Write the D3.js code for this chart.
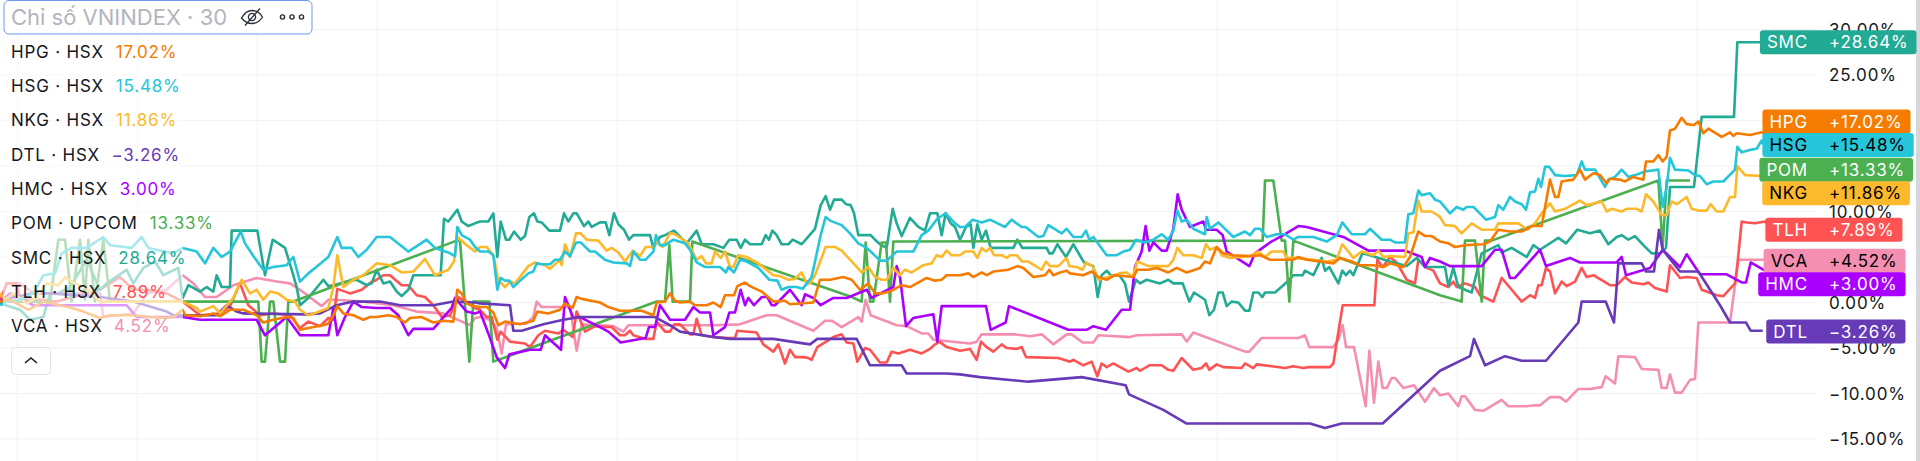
<!DOCTYPE html>
<html><head><meta charset="utf-8">
<style>html,body{margin:0;padding:0;background:#fff;overflow:hidden}svg{display:block;font-family:Inter,"Liberation Sans",sans-serif}</style>
<script src="https://cdn.jsdelivr.net/npm/d3@7"></script>
</head><body><svg id="c" width="1920" height="461"></svg>
<script>
const yTicks=[30,25,20,15,10,5,0,-5,-10,-15];
const gridTimes=[52,412,772,1132,1492,1852,2212,2572,2932,3292,3652,4012,4372,4732,5092];
const symbols=["HPG","HSG","NKG","DTL","HMC","POM","SMC","TLH","VCA"];
const exchanges=["HSX","HSX","HSX","HSX","HSX","UPCOM","HSX","HSX","HSX"];
const lastPct=[17.02,15.48,11.86,-3.26,3.00,13.33,28.64,7.89,4.52];
const labelAt=[19.9,17.3,14.6,12.0,8.0,4.6,2.0,-3.2];
const POM=[[0,.1],[150,.1],[175,6.9],[195,6.9],[215,.1],[240,6.9],[255,.3],[265,6.9],[285,.1],[310,6.9],[330,.1],[548,.1],[775,.1],[785,-6.5],[795,-6.5],[810,.1],[820,.1],[840,-6.5],[855,-6.5],[865,.1],[880,.1],[1370,6.8],[1380,6.8],[1408,-6.5],[1420,.1],[1468,.1],[1480,-6.5],[1970,.1],[1995,.1],[2008,6.3],[2018,.1],[2070,.1],[2077,6.7],[2555,.6],[2585,.1],[2597,6.6],[2610,.1],[2620,.1],[2645,6.6],[2658,6.6],[2670,.1],[2680,6.7],[3788,6.8],[3795,13.4],[3820,13.4],[3845,6.8],[3855,6.8],[3868,.1],[3880,6.8],[4320,.8],[4385,.1],[4395,6.8],[4425,6.8],[4445,.1],[4455,6.8],[4475,6.8],[4975,13.4],[4988,6.1],[5000,13.4],[5070,13.4]];
const SMC=[[0,-.1],[60,-.8],[90,-1.9],[130,-1.6],[150,1],[175,1],[210,1.7],[260,4.7],[300,1.4],[320,2.1],[380,3.6],[400,2.1],[430,3.8],[465,4.5],[490,3],[535,3.8],[548,.5],[565,1.9],[600,1.2],[620,1.7],[640,1.2],[650,3],[665,1.7],[690,1.7],[695,7.9],[772,7.9],[795,3],[818,6.9],[835,6.5],[855,6],[875,3.6],[890,1.7],[900,-.3],[925,.5],[945,1.4],[970,2.5],[985,1.8],[1000,1.9],[1040,2.3],[1070,2.5],[1100,1.9],[1115,2.1],[1130,3.6],[1150,2.1],[1170,2.3],[1190,1.2],[1205,.7],[1225,1.4],[1240,3],[1322,3],[1332,9.2],[1345,8.9],[1372,10.2],[1385,8.9],[1405,8.4],[1425,8.7],[1440,8.9],[1465,8.9],[1480,9.8],[1492,5],[1502,8.9],[1518,6.9],[1528,6.9],[1542,7.8],[1562,6.9],[1575,7.3],[1588,9.4],[1602,9.8],[1612,8.9],[1625,8.8],[1648,7.9],[1680,7.9],[1692,9.8],[1705,8.9],[1720,9.8],[1730,9.8],[1752,8.4],[1765,8.9],[1775,8.3],[1800,8.8],[1817,8.8],[1828,7.4],[1842,9.8],[1855,8.6],[1872,8],[1887,6.9],[1900,7.4],[1950,7.4],[1960,6],[1980,7.2],[1995,7.4],[2022,7.9],[2060,6.5],[2090,7.9],[2105,6.4],[2140,6.4],[2170,6],[2188,6.9],[2210,6.9],[2222,6],[2235,6.9],[2250,6.4],[2285,6.4],[2297,7.4],[2307,6.9],[2317,7.9],[2330,7.4],[2345,6.4],[2365,6.4],[2378,6.9],[2405,6.4],[2445,8.1],[2462,10.7],[2477,11.7],[2490,10.2],[2502,11.3],[2525,11.3],[2538,10.8],[2552,10.7],[2562,9.8],[2575,7.4],[2612,7.4],[2625,6.9],[2640,6.4],[2660,6],[2678,10.3],[2690,8.7],[2705,7.3],[2730,9.3],[2755,8.3],[2775,7.9],[2790,9.8],[2812,9.8],[2825,7.4],[2837,9.8],[2852,8.7],[2865,8.3],[2880,6.9],[2898,8.3],[2912,8.6],[2920,6],[2932,8.6],[2945,6.9],[2958,7.9],[2972,6],[3040,6],[3052,6.9],[3067,6],[3140,6],[3148,5.4],[3158,5.4],[3172,6.4],[3198,5],[3220,6.4],[3252,4.4],[3280,4],[3293,.6],[3305,3],[3320,3.5],[3332,3],[3358,3],[3375,2.1],[3387,.1],[3408,2.5],[3420,2.1],[3440,2.5],[3480,2.1],[3505,2.5],[3520,2.1],[3548,2.1],[3568,.1],[3582,1.1],[3615,.3],[3628,-1.4],[3642,-.8],[3655,1.1],[3668,1.1],[3680,-.4],[3695,.1],[3715,0],[3735,-.9],[3748,-.9],[3760,1.1],[3775,1.1],[3787,.6],[3795,1.1],[3825,1.1],[3850,1.9],[3868,2.5],[3880,3],[3908,3],[3915,3.5],[3940,3],[3965,4.9],[3975,3.5],[3988,3.9],[4015,2.1],[4027,3.5],[4038,3],[4050,3.5],[4060,3],[4087,5.4],[4100,5.3],[4170,4.5],[4220,4],[4250,4.9],[4275,3.9],[4320,3.9],[4335,3.9],[4345,1.8],[4360,3.8],[4375,1.7],[4395,1.4],[4415,1.1],[4445,5.4],[4495,6.3],[4505,5.5],[4535,6],[4580,5],[4600,6.3],[4620,5.8],[4675,7.1],[4698,6.5],[4732,8],[4770,7.6],[4800,7.9],[4825,6.4],[4850,7.2],[4865,7.4],[4885,6.9],[4905,7.3],[4930,6.3],[4955,5.4],[4980,5.4],[4998,6],[5010,12.7],[5082,12.7],[5105,20.4],[5115,20.4],[5202,20.4],[5212,28.6],[5290,28.6]];
const HSG=[[0,-.3],[20,.1],[60,.3],[100,1],[130,3],[165,3.2],[185,5.4],[215,6],[260,6],[310,7.2],[330,6.3],[395,6],[425,7.2],[445,6],[520,5.4],[548,6],[590,5.6],[615,4.3],[640,6],[665,5],[690,5.6],[722,7.8],[735,6.5],[762,5],[790,3.6],[820,3.9],[860,4.1],[880,5],[900,2.3],[925,3.2],[945,3.8],[985,5],[1012,7.2],[1025,6],[1055,6],[1075,5],[1100,5.8],[1130,7.2],[1170,7.2],[1225,5.6],[1280,6.9],[1305,6],[1345,5.5],[1365,5.1],[1372,8.3],[1385,7.4],[1410,6.9],[1425,6.1],[1440,5.6],[1465,5.6],[1480,5.2],[1492,1.4],[1502,2.7],[1515,2.4],[1528,2.4],[1540,1.7],[1560,2.4],[1585,3.2],[1600,3.4],[1610,4.3],[1625,4.2],[1650,4.2],[1665,4.7],[1680,4.7],[1695,5.6],[1710,5.1],[1728,6.6],[1742,6.6],[1770,5.6],[1785,5.6],[1815,4.7],[1840,4.4],[1880,4.3],[1890,4],[1900,5.6],[1920,4.7],[1937,4.7],[1960,5.6],[1968,7.4],[1980,6.3],[1995,6.3],[2020,6.9],[2055,6.5],[2070,5.8],[2090,4.4],[2115,3.9],[2160,3.9],[2178,3.3],[2185,3.9],[2202,3.3],[2220,4.7],[2240,4.5],[2275,3.8],[2308,2.5],[2332,2.4],[2345,1.4],[2365,1.7],[2390,1.7],[2408,1.5],[2435,2.8],[2462,7.4],[2477,9.4],[2490,9],[2525,8.5],[2550,7.6],[2575,6.5],[2600,6],[2612,5.6],[2640,4.6],[2660,4.6],[2675,5.1],[2690,5.6],[2740,5.6],[2765,7.4],[2785,7.9],[2812,9.2],[2837,9.8],[2865,8.7],[2880,8.3],[2895,8.3],[2918,9.1],[2945,8.8],[2970,9.1],[3015,8.3],[3035,9.1],[3065,8.3],[3077,8.3],[3115,7.2],[3130,7.3],[3145,8.5],[3185,7.6],[3200,8.1],[3220,7.2],[3245,7.2],[3258,7.9],[3268,6.9],[3280,7.2],[3320,5.2],[3350,5.2],[3370,5.6],[3390,5.8],[3408,6.9],[3435,6.6],[3460,6.9],[3485,7.5],[3505,6.9],[3520,7.9],[3532,10.1],[3545,8.9],[3560,9.1],[3580,8.1],[3615,7.5],[3620,9.4],[3630,8.1],[3655,8.8],[3700,7.2],[3735,7.8],[3750,7.4],[3765,8.1],[3780,8.1],[3800,7.2],[3830,7.5],[3855,7.5],[3880,6.9],[3895,7.2],[3940,7.2],[3980,6.7],[4010,7.4],[4027,8.8],[4055,7.5],[4095,7.5],[4110,8.1],[4145,6.9],[4170,6.9],[4185,6.6],[4215,6.6],[4225,9.7],[4240,9.8],[4255,12.3],[4265,11.8],[4290,12],[4305,11.3],[4320,11.1],[4350,9.8],[4370,10.5],[4390,10.2],[4400,10.5],[4420,10.5],[4458,9.1],[4485,9.4],[4495,10.7],[4510,10.2],[4530,11.6],[4545,11.1],[4565,10.8],[4578,10.2],[4590,12.1],[4605,12.2],[4615,13.6],[4623,12.7],[4635,14.9],[4648,14.9],[4665,14],[4695,13.9],[4730,14],[4745,15.5],[4755,14.6],[4785,14.6],[4815,12.7],[4825,13.5],[4845,13.8],[4865,14.6],[4885,13.8],[4905,14],[4935,14.4],[4975,14.6],[4988,10.5],[5000,12.7],[5010,15.9],[5025,14.6],[5065,14.5],[5085,14],[5100,13.9],[5120,13],[5140,13.3],[5170,13.3],[5205,14.6],[5212,17.1],[5225,16.5],[5255,16.8],[5270,16.9],[5285,17.8],[5300,16.9]];
const HPG=[[0,.1],[30,.3],[50,-.1],[85,-.8],[130,.1],[180,-.3],[215,-.6],[250,-1],[300,-1.7],[330,-1.4],[400,-1.4],[450,-1.6],[500,-1.7],[520,-1.6],[548,-.8],[555,-1.4],[600,-1.5],[640,-1.2],[660,-1.5],[690,-.8],[730,-.8],[770,-1.4],[790,-2.2],[820,-1.9],[860,-1.6],[880,-1.7],[900,-3],[925,-2.8],[970,-2.5],[985,-2.3],[1000,-1.4],[1012,-.4],[1030,-1.2],[1060,-1.4],[1090,-1.9],[1110,-1.6],[1130,-1.6],[1165,-1.4],[1190,-1.6],[1215,-2.2],[1230,-1.7],[1265,-1.6],[1300,-2.2],[1330,-2],[1360,-2.1],[1372,1.4],[1385,1],[1400,-.1],[1420,-.4],[1440,-.5],[1460,-.5],[1480,-1.1],[1495,-2.5],[1515,-2.1],[1560,-2.4],[1600,-2],[1612,-1],[1645,-1.2],[1680,-.8],[1695,-.1],[1718,-.6],[1730,.6],[1745,.4],[1800,0],[1825,-.5],[1860,-.9],[1890,-.9],[1925,-.9],[1960,-1.4],[1970,0],[1995,.1],[2010,1],[2025,.2],[2040,0],[2070,.1],[2085,-.3],[2120,-.3],[2140,0],[2162,-.5],[2175,.8],[2202,.8],[2212,1.8],[2235,2.2],[2250,1.8],[2285,1.2],[2320,.1],[2355,.2],[2370,-.2],[2440,0],[2460,2.5],[2490,2.5],[2530,2.8],[2555,2.5],[2580,1.4],[2605,2.1],[2625,1],[2645,1],[2670,1.2],[2705,1.9],[2730,1.7],[2780,2.7],[2805,2.4],[2825,2.5],[2840,3],[2880,3],[2905,3.2],[2920,2.8],[2945,3.3],[2960,3],[2980,3.4],[3025,3.6],[3052,4],[3070,3.8],[3100,2.8],[3135,3],[3148,3.6],[3160,3],[3180,3.3],[3200,3.5],[3210,3.2],[3250,3],[3275,3.4],[3295,2.8],[3320,2.5],[3345,3],[3400,2.8],[3412,3.6],[3445,3.6],[3470,3.8],[3505,3.3],[3530,3.8],[3560,3.3],[3600,3.8],[3615,4.5],[3630,4.3],[3650,6.1],[3670,5.4],[3700,5.2],[3750,5.1],[3780,5.2],[3810,4.7],[3880,4.7],[3895,5],[3920,4.7],[4000,4.3],[4020,4.9],[4055,4.5],[4080,4.1],[4120,4.1],[4150,3.9],[4170,4.3],[4210,3.9],[4230,5],[4255,7.8],[4275,7.3],[4295,7.3],[4320,6.7],[4345,6.5],[4365,6.1],[4395,6.3],[4450,6.4],[4470,6.7],[4495,8],[4530,7.8],[4565,7.8],[4595,8.4],[4625,8.4],[4650,13.5],[4665,11.6],[4675,11.6],[4685,13.3],[4720,13.5],[4740,14.6],[4755,13.5],[4780,14.2],[4800,14],[4820,13.1],[4830,13.6],[4860,13.5],[4875,13.3],[4900,13.8],[4930,13.5],[4938,15.5],[4960,15.5],[4975,16.2],[4988,15.5],[5000,16],[5010,18.9],[5025,19.1],[5045,20.3],[5060,19.6],[5082,19.5],[5095,19.9],[5110,18.6],[5125,19.1],[5165,18.2],[5190,18.7],[5200,18.3],[5210,18.6],[5250,18.4],[5285,18.7],[5305,18.3]];
const NKG=[[0,1],[15,.3],[40,1],[80,-.1],[110,.6],[140,2.1],[175,1.9],[195,2.8],[225,2.1],[260,1.5],[300,.1],[548,.1],[590,-.6],[600,-1],[640,-.4],[660,-1.2],[700,.5],[725,2.5],[750,1],[770,1.4],[790,.3],[810,1.2],[835,1],[860,.3],[885,.1],[900,-.8],[925,-1.4],[950,-1.1],[985,-.6],[1000,1.7],[1012,5.2],[1030,1.7],[1060,2.5],[1090,3],[1130,4.3],[1170,4.1],[1205,3.3],[1240,3.4],[1275,4.8],[1305,3],[1345,3.6],[1362,4.5],[1372,7.2],[1400,6.3],[1425,5.6],[1440,6.1],[1460,6.1],[1480,5.2],[1495,2.5],[1515,1.7],[1530,2.3],[1545,2.1],[1585,4],[1605,4.4],[1635,4.1],[1650,3.7],[1680,4.7],[1685,4.1],[1695,6.4],[1710,5],[1728,7.6],[1742,7.6],[1760,6.9],[1795,6.8],[1820,5.7],[1835,6],[1855,5.5],[1875,4.5],[1898,5.7],[1920,5.1],[1937,6.1],[1960,6.1],[1970,6.7],[1988,6.1],[2010,7.6],[2025,7.5],[2065,6.5],[2090,4.7],[2105,5.1],[2118,4.3],[2135,4.3],[2145,5.6],[2162,4.9],[2175,5.6],[2190,3.9],[2200,3.9],[2215,5.2],[2240,5],[2275,4.3],[2320,3],[2340,2.9],[2365,2.5],[2385,2.6],[2405,3.3],[2420,2.1],[2430,2.1],[2445,3],[2477,6.1],[2505,6.1],[2525,5.7],[2550,4.7],[2585,3.3],[2605,3.9],[2625,2.8],[2645,2.5],[2660,2.5],[2680,3.8],[2700,3],[2715,3.6],[2735,3.3],[2770,4.1],[2795,4.3],[2810,5.2],[2825,5],[2840,5.7],[2855,5.2],[2880,5.2],[2895,5.6],[2920,5.6],[2932,4.9],[2945,6],[2958,5.6],[2970,6],[2982,5.2],[3005,5.2],[3020,4.9],[3030,5.2],[3050,5.2],[3067,4.5],[3085,4.5],[3125,3.6],[3138,4.5],[3150,4],[3175,4],[3200,4.9],[3208,4],[3230,3.9],[3248,3.6],[3258,4.4],[3280,3.9],[3295,2.5],[3325,2.8],[3358,3.2],[3380,3.3],[3398,2.8],[3412,4.5],[3445,4],[3505,4],[3520,4.7],[3532,6],[3550,5.2],[3580,5.2],[3605,4.9],[3618,6.4],[3630,5.8],[3650,6.1],[3665,5.2],[3690,4.9],[3750,5.1],[3775,5.6],[3795,5],[3815,5.6],[3850,5.6],[3860,4.9],[3880,4.9],[3940,4.7],[3980,4.5],[4010,4.7],[4027,6.4],[4045,5.6],[4060,4.9],[4085,5.6],[4120,5.2],[4135,5.7],[4150,5],[4170,5.1],[4215,5],[4225,7.6],[4240,7.7],[4255,11.2],[4265,10],[4295,10],[4320,9.4],[4335,8.5],[4365,8.4],[4385,7.6],[4415,8.7],[4445,8],[4485,8],[4495,8.7],[4555,8.7],[4582,8],[4605,8.7],[4625,9.8],[4650,10.9],[4665,10],[4695,10.3],[4740,11.2],[4760,10.7],[4805,11.1],[4820,10],[4835,10.3],[4865,10],[4880,10.3],[4910,10.3],[4925,10],[4938,11.9],[4960,11.1],[4985,9.6],[5000,9.6],[5015,11.1],[5030,10.8],[5060,11.6],[5075,10.3],[5095,10.1],[5120,10.1],[5132,10.8],[5150,10],[5170,10],[5190,11.6],[5205,11.6],[5212,15],[5235,14],[5290,13.9]];
const DTL=[[0,.1],[30,.5],[100,1],[150,1],[300,.6],[400,.1],[500,-1],[520,-1.4],[650,-1.4],[680,-.3],[710,-1],[730,-1.2],[920,-1.3],[960,-1.2],[1010,-.3],[1060,.1],[1140,.1],[1200,-.3],[1300,-.3],[1360,.1],[1425,0],[1440,-.1],[1530,-.3],[1540,-3.1],[1565,-3.1],[1630,-2.4],[1690,-1.9],[1740,-1.6],[1965,-1.6],[2010,-2.5],[2040,-3.2],[2140,-3.8],[2190,-4],[2320,-4],[2430,-4.6],[2452,-4],[2570,-4],[2610,-6.9],[2705,-6.9],[2720,-7.8],[2840,-7.8],[2880,-7.9],[2940,-8.2],[3085,-8.7],[3245,-8.2],[3377,-9.1],[3387,-10.1],[3490,-11.8],[3560,-13.3],[3930,-13.3],[3975,-13.8],[4025,-13.3],[4148,-13.3],[4320,-7.5],[4410,-5.9],[4422,-4],[4455,-6.9],[4515,-5.9],[4565,-6.4],[4638,-6.4],[4735,-2.2],[4745,.1],[4817,.1],[4842,-2.2],[4855,4.3],[4925,4.3],[4938,3.4],[4962,3.4],[4977,8],[4988,5.8],[5040,3.4],[5095,3.4],[5160,-.3],[5190,-2.2],[5238,-2.2],[5252,-3.1],[5288,-3.1]];
const HMC=[[0,.1],[30,1],[100,-.3],[380,-.3],[410,-1.6],[548,-1.6],[600,-1.9],[770,-1.9],[795,-3.6],[860,-1.6],[900,-3.6],[985,-3.6],[1000,-.6],[1012,-3.6],[1035,-1.6],[1060,.1],[1085,-.5],[1130,-.6],[1170,-.6],[1195,-1.4],[1225,-3.6],[1240,-2.9],[1300,-2.9],[1355,-.6],[1365,.5],[1400,-1],[1425,-1.2],[1440,-1],[1465,-3.4],[1490,-6],[1515,-7.2],[1528,-5.7],[1590,-5.2],[1622,-5.2],[1635,-3.6],[1683,-5.2],[1695,.6],[1720,-1.7],[1740,-1.6],[1800,-2.7],[1825,-3.2],[1862,-4.4],[1937,-3.9],[1947,-2.7],[1965,-2.7],[1980,-.3],[2010,-1.9],[2055,-1.9],[2080,-.5],[2100,-1.1],[2130,-1.1],[2140,-3.6],[2175,-2.7],[2188,-1.1],[2205,-1.1],[2222,1.4],[2235,-.3],[2245,.5],[2262,-.3],[2285,.6],[2302,.6],[2315,-.3],[2325,-.3],[2370,1.4],[2405,-.3],[2415,.9],[2440,.5],[2462,-.3],[2500,.5],[2540,.5],[2600,1.4],[2615,.5],[2680,1.7],[2690,4],[2700,2.8],[2718,-2.6],[2740,-1.7],[2800,-1.3],[2812,-4.3],[2825,-.4],[2880,-.4],[2958,-.4],[2972,-3],[3017,-2.2],[3027,-.4],[3205,-3],[3260,-3],[3280,-2.6],[3318,-3],[3365,-.8],[3390,-.8],[3405,3.9],[3425,5.6],[3437,8.4],[3448,5.7],[3460,6.6],[3485,5.7],[3500,5.7],[3520,8.1],[3533,11.9],[3545,10.2],[3570,8.3],[3610,8.9],[3618,8],[3650,8],[3668,7.4],[3680,5.6],[3748,4],[3765,5.4],[3810,6.6],[3850,7.4],[3895,8.4],[3920,8.3],[4030,7.2],[4105,5.7],[4215,5.7],[4265,5],[4275,3.9],[4290,4.9],[4320,4.5],[4350,4],[4445,4],[4485,5.8],[4505,5.8],[4530,2.7],[4545,2.7],[4620,5.8],[4638,4],[4710,4.9],[4740,4.4],[4850,4.4],[4865,5],[4878,3],[4950,3.8],[4960,4.3],[4988,5.8],[5040,3.9],[5060,5.3],[5100,3.1],[5180,3.1],[5225,2.2],[5238,2.2],[5252,4.4],[5295,3.5]];
const TLH=[[0,.1],[20,2.1],[50,2.1],[60,.3],[130,.3],[170,.1],[300,1.4],[330,2.1],[360,2.8],[400,1.4],[440,1.4],[500,1],[548,.1],[600,-1.4],[660,-1.2],[690,-.4],[720,2.1],[745,-.3],[780,-1.4],[820,-1.2],[870,-1.4],[900,-2.8],[925,-2.1],[960,-2.6],[985,-1.7],[1000,-1.9],[1012,1.5],[1050,1],[1085,1.4],[1112,2.2],[1130,2.5],[1150,3],[1170,3],[1205,1.9],[1225,1.9],[1250,.8],[1275,.6],[1300,-.3],[1325,-1.6],[1350,-1.4],[1375,.6],[1425,-.6],[1440,-.8],[1460,-1.6],[1475,-1.6],[1492,-4.1],[1502,-3.2],[1530,-4.3],[1575,-4.5],[1590,-4.9],[1615,-3.6],[1635,-3.1],[1675,-3.4],[1690,-3],[1718,-3.8],[1730,-1],[1755,-3.2],[1785,-2.6],[1815,-2.7],[1835,-2.7],[1860,-3.6],[1875,-3.6],[1890,-3.1],[1900,-3.6],[1937,-4],[1960,-4],[1970,-2.1],[1995,-3.2],[2010,-3.2],[2023,-2.4],[2040,-2.4],[2070,-3.5],[2080,-3.5],[2090,-1.8],[2105,-3.6],[2140,-3.8],[2185,-3.9],[2205,-3.9],[2212,-3.1],[2270,-3.3],[2290,-4.6],[2320,-5.4],[2335,-4.6],[2355,-6.7],[2370,-5.2],[2385,-6],[2410,-6],[2425,-6.1],[2435,-6.3],[2452,-4.9],[2500,-3.8],[2525,-3.5],[2540,-4.4],[2560,-4.5],[2572,-6.5],[2595,-5],[2610,-5.2],[2640,-6.6],[2660,-6.6],[2675,-5.4],[2695,-5.6],[2730,-5.2],[2765,-5.6],[2790,-5.1],[2802,-4.7],[2818,-4.3],[2840,-4.9],[2880,-5.3],[2910,-5.1],[2930,-6.3],[2943,-4.3],[2960,-4.9],[2980,-5.4],[3005,-4.6],[3020,-5],[3050,-5.1],[3065,-4.9],[3078,-6],[3175,-6.1],[3210,-6.5],[3220,-6.3],[3250,-6.9],[3275,-6.5],[3292,-8.1],[3305,-6.7],[3320,-7.1],[3340,-6.7],[3385,-7.6],[3410,-7.2],[3420,-7.5],[3448,-6.9],[3485,-6.9],[3505,-7.4],[3520,-7.5],[3545,-6.1],[3580,-7.4],[3605,-7.2],[3618,-6.7],[3628,-7.4],[3650,-6.8],[3670,-7.1],[3725,-7.2],[3735,-6.7],[3760,-7.2],[3770,-6.8],[3815,-7],[3855,-7.2],[3880,-7],[3910,-7.2],[3925,-7.1],[3990,-7.1],[4000,-6.7],[4028,-.3],[4123,-.3],[4132,4.7],[4148,3.9],[4170,5],[4190,4.4],[4220,2.5],[4245,2.1],[4255,4.7],[4280,3.8],[4300,3.5],[4320,2.1],[4345,1.7],[4360,2.3],[4370,1.7],[4395,2.1],[4425,1.7],[4440,.8],[4480,.1],[4505,2.7],[4535,1.4],[4565,.1],[4590,.8],[4605,.5],[4615,1.9],[4625,1.9],[4638,3.8],[4650,3.4],[4665,1],[4685,2.3],[4700,1.8],[4725,2.3],[4745,3.8],[4760,2.8],[4780,3],[4830,1.9],[4850,1.9],[4875,2.8],[4895,2.2],[4930,2],[4945,2.2],[4965,1.6],[5000,1.2],[5010,4.1],[5040,2.7],[5060,2.8],[5090,2.7],[5105,1.4],[5150,.8],[5170,.7],[5205,2.1],[5212,4.1],[5225,8.9],[5240,8.8],[5265,8.7],[5295,8.9],[5310,8.3]];
const VCA=[[0,.1],[20,2.1],[60,2.1],[100,1],[300,1],[310,-1.6],[400,-1.2],[440,1],[500,1.4],[548,3],[580,2.1],[615,.6],[650,.6],[700,1.9],[770,2.7],[830,2.3],[870,2.1],[900,1.4],[965,-.4],[985,.3],[1005,.3],[1090,.1],[1180,-.3],[1250,-1],[1330,-1.2],[1410,-2.5],[1425,-1.7],[1440,-1.6],[1470,-1.9],[1490,-2.8],[1505,-5.6],[1518,-2.4],[1580,-2.3],[1600,-1.6],[1610,.1],[1625,-.5],[1710,-.5],[1730,-5.3],[1745,-2.4],[1840,-2.6],[1870,-3.2],[1885,-2.5],[2140,-2.5],[2220,-2.4],[2300,-1.4],[2330,-1.4],[2440,-3.1],[2475,-2],[2495,-2],[2525,-2.7],[2575,-1.6],[2585,-2.1],[2597,.3],[2612,-1.4],[2690,-2.5],[2720,-2.6],[2765,-3.4],[2785,-3.4],[2800,-4.1],[2880,-4.4],[2910,-4.5],[2930,-4.3],[2945,-3.5],[3045,-3.5],[3090,-3.7],[3125,-3.5],[3160,-4.6],[3200,-3.5],[3215,-3.5],[3248,-4.4],[3280,-4.4],[3295,-3.6],[3390,-3.8],[3410,-3.6],[3545,-3.5],[3560,-4.3],[3580,-3.3],[3735,-5.4],[3748,-5.4],[3785,-3.9],[3895,-3.9],[3915,-3.6],[3928,-4.9],[4000,-4.9],[4015,-4.1],[4028,-2.5],[4038,-4.9],[4062,-4.9],[4097,-11.4],[4108,-5.3],[4122,-11],[4135,-6.5],[4148,-9.4],[4160,-9.4],[4175,-8.3],[4185,-8.3],[4210,-9.4],[4242,-9.1],[4275,-10.9],[4302,-9.4],[4320,-10.2],[4345,-10],[4375,-11.4],[4385,-10.3],[4395,-10.3],[4425,-11.8],[4450,-11.9],[4505,-10.7],[4525,-11.4],[4565,-11.4],[4580,-11.4],[4605,-11.3],[4620,-11.3],[4650,-10.4],[4680,-10.4],[4698,-10.9],[4735,-9.5],[4770,-9.5],[4805,-9.3],[4817,-8.1],[4845,-8.9],[4855,-5.9],[4905,-6],[4925,-7.3],[4975,-7.4],[4985,-9.4],[5000,-9.4],[5010,-7.9],[5025,-9.9],[5045,-9.9],[5070,-8.5],[5085,-8.4],[5095,-2.2],[5190,-2.2],[5215,4.7],[5300,4.7]];
const colorOf={HPG:"#f57c00",HSG:"#26c6da",NKG:"#fdb92c",DTL:"#673ab7",HMC:"#aa00ff",POM:"#4caf50",SMC:"#22ab94",TLH:"#ff5252",VCA:"#f48fb1"};
const darkText=["HSG","NKG","VCA"];
const seriesOf={HPG,HSG,NKG,DTL,HMC,POM,SMC,TLH,VCA};
const drawOrder=["VCA","TLH","SMC","POM","HMC","DTL","NKG","HSG","HPG"];
const labelOrder=["SMC","HPG","HSG","POM","NKG","TLH","VCA","HMC","DTL"];
const labelValues=[28.6,...labelAt];

const svg=d3.select("#c");
const x=d3.scaleLinear().domain([0,5760]).range([0,1920]);
const y=d3.scaleLinear().domain([-15,30]).range([439,29.5]);
const plotR=1816,textCol="#131722",fs=17,ls=0.8;

svg.append("g").selectAll("line").data(yTicks).join("line")
 .attr("x1",0).attr("x2",plotR).attr("y1",d=>y(d)).attr("y2",d=>y(d)).attr("stroke","#f1f1f4").attr("stroke-width",1);
svg.append("g").selectAll("line").data(gridTimes).join("line")
 .attr("x1",d=>x(d)).attr("x2",d=>x(d)).attr("y1",0).attr("y2",461).attr("stroke","#f1f1f4").attr("stroke-width",1);

const line=d3.line().x(d=>x(d[0])).y(d=>y(d[1]));
svg.append("g").selectAll("path").data(drawOrder).join("path")
 .attr("d",s=>line(seriesOf[s])).attr("fill","none").attr("stroke",s=>colorOf[s])
 .attr("stroke-width",2.6).attr("stroke-linejoin","round");

// faded legend backdrop
svg.append("rect").attr("x",3).attr("y",35).attr("width",180).attr("height",305).attr("fill","#fff").attr("fill-opacity",.6);

// value axis
const axis=d3.axisRight(y).tickValues(yTicks).tickSize(0).tickPadding(0)
 .tickFormat(d=>(d<0?"\u2212":"")+Math.abs(d).toFixed(2)+"%");
const ag=svg.append("g").attr("transform",`translate(1829,0)`).call(axis);
ag.select(".domain").remove();
ag.selectAll("text").attr("font-size",fs).attr("letter-spacing",ls).attr("font-family","Inter,sans-serif").attr("fill",textCol).attr("dy","0.35em");
svg.append("rect").attr("x",1916).attr("y",0).attr("width",4).attr("height",461).attr("fill","#d6d6dc");

// price labels
const lab=svg.append("g").selectAll("g").data(labelOrder).join("g")
 .attr("transform",(s,i)=>`translate(0,${y(labelValues[i])})`);
lab.append("rect").attr("class","bg").attr("y",-12).attr("height",24).attr("rx",3).attr("fill",s=>colorOf[s]);
lab.append("text").attr("class","n").attr("x",1808).attr("text-anchor","end").attr("dy","0.36em").attr("font-size",fs).attr("letter-spacing",ls)
 .attr("fill",s=>darkText.includes(s)?"#000":"#fff").text(s=>s);
lab.append("text").attr("class","v").attr("x",1829).attr("dy","0.36em").attr("font-size",fs).attr("letter-spacing",ls)
 .attr("fill",s=>darkText.includes(s)?"#000":"#fff")
 .text(s=>{const p=lastPct[symbols.indexOf(s)];return (p<0?"\u2212":"+")+Math.abs(p).toFixed(2)+"%";});
lab.each(function(){
 const g=d3.select(this);
 const nb=g.select(".n").node().getBBox(),vb=g.select(".v").node().getBBox();
 g.select(".bg").attr("x",nb.x-7).attr("width",vb.x+vb.width+8-(nb.x-7));
});

// legend
svg.append("rect").attr("x",4).attr("y",.5).attr("width",308).attr("height",33.5).attr("rx",5)
 .attr("fill","#fff").attr("stroke","#6f94f2").attr("stroke-width",1);
svg.append("text").attr("x",11).attr("y",24.5).attr("font-size",22).attr("fill","#b2b5be").text("Chỉ số VNINDEX · 30");
const eye=svg.append("g").attr("transform","translate(252,17)").attr("fill","none").attr("stroke","#2a2e39").attr("stroke-width",1.3);
eye.append("path").attr("d","M-10.5 1C-7 -5 -3 -6.5 0 -6.5C4 -6.5 8 -4 10.5 0C7 5.5 3 6.5 0 6.5C-4 6.5 -8 4 -10.5 1Z");
eye.append("circle").attr("r",3.6);
eye.append("path").attr("d","M-7 8.5L8 -8.5");
svg.append("g").selectAll("circle").data([-9.5,0,9.5]).join("circle")
 .attr("cx",d=>292+d).attr("cy",17).attr("r",2.1).attr("fill","none").attr("stroke","#2a2e39").attr("stroke-width",1.4);

const rows=svg.append("g").selectAll("text").data(symbols).join("text")
 .attr("x",11).attr("y",(d,i)=>57.8+i*34.3).attr("font-size",fs).attr("letter-spacing",ls);
rows.append("tspan").attr("fill",textCol).text((s,i)=>`${s} · ${exchanges[i]}`);
rows.append("tspan").attr("dx",12).attr("fill",s=>colorOf[s])
 .text((s,i)=>(lastPct[i]<0?"\u2212":"")+Math.abs(lastPct[i]).toFixed(2)+"%");

svg.append("rect").attr("x",11.5).attr("y",347.5).attr("width",39).attr("height",27).attr("rx",4).attr("fill","#fff").attr("stroke","#e0e3eb");
svg.append("path").attr("d","M25 363L31 358L37 363").attr("fill","none").attr("stroke",textCol).attr("stroke-width",1.5);
</script></body></html>
